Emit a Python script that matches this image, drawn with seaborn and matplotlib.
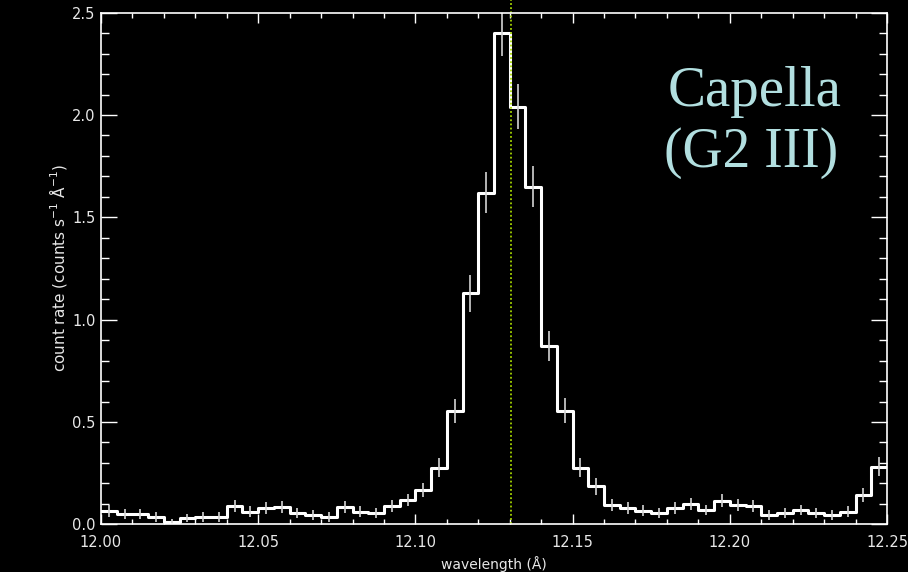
import matplotlib
matplotlib.use("Agg")
import matplotlib.pyplot as plt
from matplotlib.ticker import MultipleLocator, FormatStrFormatter
import seaborn as sns
import numpy as np
import pandas as pd

# Capella, Chandra HETG spectrum near 12.13 A (0.005 A bins)
wave_start = 12.000
bin_width = 0.005
count_rate = [
    0.066, 0.049, 0.049, 0.034, 0.013, 0.029, 0.037, 0.037, 0.089, 0.062,
    0.078, 0.083, 0.054, 0.045, 0.037, 0.083, 0.062, 0.054, 0.089, 0.117,
    0.168, 0.277, 0.554, 1.129, 1.620, 2.400, 2.040, 1.650, 0.872, 0.555,
    0.277, 0.185, 0.096, 0.078, 0.067, 0.054, 0.078, 0.099, 0.070, 0.116,
    0.096, 0.089, 0.045, 0.054, 0.070, 0.054, 0.045, 0.062, 0.143, 0.282,
]
rate_err = [
    0.030, 0.025, 0.025, 0.025, 0.015, 0.020, 0.025, 0.025, 0.030, 0.025,
    0.030, 0.030, 0.025, 0.025, 0.025, 0.030, 0.025, 0.025, 0.030, 0.030,
    0.035, 0.045, 0.060, 0.090, 0.100, 0.110, 0.110, 0.100, 0.075, 0.060,
    0.045, 0.040, 0.030, 0.030, 0.025, 0.025, 0.030, 0.030, 0.025, 0.030,
    0.030, 0.030, 0.025, 0.025, 0.025, 0.025, 0.025, 0.025, 0.035, 0.045,
]
line_wave = 12.1305
star_name = "Capella"
star_type = "(G2 III)"

edges = wave_start + bin_width * np.arange(len(count_rate) + 1)
centers = edges[:-1] + bin_width / 2
df = pd.DataFrame({"wave": centers, "rate": count_rate, "err": rate_err})
# step outline: left edges + closing right edge
steps = pd.DataFrame({"edge": edges, "rate": count_rate + count_rate[-1:]})

sns.set_style("ticks")
plt.rcParams["font.family"] = ["DejaVu Sans"]

fig = plt.figure(figsize=(9.08, 5.72), dpi=100, facecolor="black")
ax = fig.add_axes([0.1112, 0.0834, 0.8657, 0.8944])
ax.set_facecolor("black")

# step histogram + error bars
sns.lineplot(data=steps, x="edge", y="rate", drawstyle="steps-post",
             color="white", linewidth=2.2, ax=ax)
ax.errorbar(df["wave"], df["rate"], yerr=df["err"], fmt="none",
            ecolor="#d4d4d4", elinewidth=1.2, capsize=0)
ax.axvline(line_wave, ymin=0, ymax=1.026, color="#a5d400",
           linestyle=(0, (1, 1.3)), linewidth=1.3, clip_on=False)

ax.set_xlim(12.0, 12.25)
ax.set_ylim(0, 2.5)
ax.xaxis.set_major_locator(MultipleLocator(0.05))
ax.xaxis.set_minor_locator(MultipleLocator(0.01))
ax.yaxis.set_major_locator(MultipleLocator(0.5))
ax.yaxis.set_minor_locator(MultipleLocator(0.1))
ax.xaxis.set_major_formatter(FormatStrFormatter("%.2f"))
ax.yaxis.set_major_formatter(FormatStrFormatter("%.1f"))

ax.tick_params(which="both", direction="in", top=True, right=True,
               color="white", labelcolor="#e8e8e8", width=1.0, labelsize=10.5)
ax.tick_params(axis="x", which="major", length=7.5, pad=8)
ax.tick_params(axis="x", which="minor", length=3.8)
ax.tick_params(axis="y", which="major", length=11.5, pad=4)
ax.tick_params(axis="y", which="minor", length=6)
for s in ax.spines.values():
    s.set_color("white")
    s.set_linewidth(1.2)

ax.set_xlabel("wavelength (Å)", color="#e8e8e8", fontsize=10)
ax.set_ylabel("count rate (counts s$^{-1}$ Å$^{-1}$)", color="#e8e8e8", fontsize=11)
ax.xaxis.set_label_coords(0.5, -0.062)
ax.yaxis.set_label_coords(-0.041, 0.5)

fig.text(755 / 908, 1 - 106 / 572, star_name, ha="center", va="baseline",
         fontsize=41, family="Liberation Serif", color="#b2dfe0")
fig.text(751 / 908, 1 - 167 / 572, star_type, ha="center", va="baseline",
         fontsize=40, family="Liberation Serif", color="#b2dfe0")

fig.savefig("out.png", dpi=100, facecolor="black")
